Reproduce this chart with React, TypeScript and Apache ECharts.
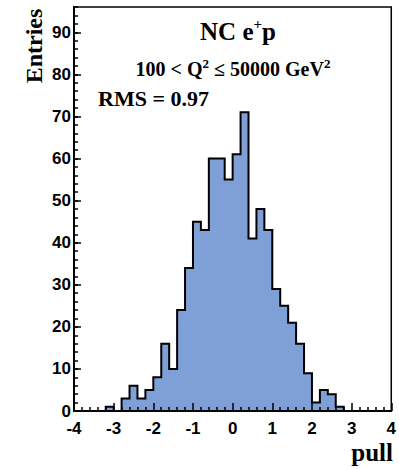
import React, { useEffect, useRef } from "react";
import * as echarts from "echarts";

const xMin = -4;
const xMax = 4;
const binWidth = 0.2;
const counts = [
  0, 0, 0, 0, 1, 0, 3, 6, 3, 5,
  8, 16, 10, 24, 34, 45, 43, 60, 60, 55,
  61, 71, 41, 48, 43, 29, 25, 21, 16, 9,
  2, 5, 4, 1, 0, 0, 0, 0, 0, 0,
];
const yMax = 96;
const xTitle = "pull";
const yTitle = "Entries";
const titleParts = ["NC e", "+", "p"];
const subtitleParts = ["100 < Q", "2", " ≤ 50000 GeV", "2"];
const rmsText = "RMS = 0.97";

const serif = '"Liberation Serif", "Times New Roman", serif';
const sans = '"Liberation Sans", Arial, sans-serif';

export default function App() {
  const ref = useRef<HTMLDivElement>(null);
  useEffect(() => {
    if (!ref.current) return;
    const chart = echarts.init(ref.current, null, { renderer: "svg" });
    const pts: number[][] = [[xMin, 0]];
    counts.forEach((c, i) => {
      const lo = xMin + i * binWidth;
      const hi = xMin + (i + 1) * binWidth;
      pts.push([lo, c]);
      pts.push([hi, c]);
    });
    pts.push([xMax, 0]);

    const black = "#000";
    chart.setOption({
      animation: false,
      grid: {
        left: 74,
        right: 4,
        top: 7,
        bottom: 58,
        show: true,
        borderColor: black,
        borderWidth: 1.5,
        backgroundColor: "transparent",
      },
      xAxis: {
        type: "value",
        min: xMin,
        max: xMax,
        interval: 1,
        z: 5,
        axisLine: { onZero: false, lineStyle: { color: black, width: 2 } },
        axisTick: { inside: true, length: 8, lineStyle: { color: black, width: 1.5 } },
        minorTick: { show: true, splitNumber: 5, length: 4, lineStyle: { color: black, width: 1.5 } },
        axisLabel: { color: black, fontFamily: sans, fontWeight: "bold", fontSize: 17, margin: 9 },
        splitLine: { show: false },
        minorSplitLine: { show: false },
      },
      yAxis: [
        {
          type: "value",
          position: "left",
          min: 0,
          max: yMax,
          interval: 2,
          z: 5,
          axisLine: { show: true, onZero: false, lineStyle: { color: black, width: 2 } },
          axisTick: { show: true, inside: true, length: 4, lineStyle: { color: black, width: 1.5 } },
          axisLabel: { show: false },
          splitLine: { show: false },
        },
        {
          type: "value",
          position: "left",
          min: 0,
          max: yMax,
          interval: 10,
          z: 5,
          axisLine: { show: true, onZero: false, lineStyle: { color: black, width: 2 } },
          axisTick: { show: true, inside: true, length: 7, lineStyle: { color: black, width: 1.5 } },
          axisLabel: {
            color: black,
            fontFamily: sans,
            fontWeight: "bold",
            fontSize: 17,
            margin: 3,
            showMaxLabel: false,
          },
          splitLine: { show: false },
        },
      ],
      series: [
        {
          type: "line",
          xAxisIndex: 0,
          yAxisIndex: 0,
          data: pts,
          symbol: "none",
          lineStyle: { color: black, width: 2, join: "miter" },
          areaStyle: { color: "#7f9fd7", opacity: 1, origin: "start" },
          z: 1,
        },
      ],
      graphic: [
        {
          type: "text",
          x: 238,
          y: 30,
          style: {
            text: `{a|${titleParts[0]}}{s|${titleParts[1]}}{a|${titleParts[2]}}`,
            align: "center",
            verticalAlign: "middle",
            fill: black,
            rich: {
              a: { fontFamily: serif, fontWeight: "bold", fontSize: 25, lineHeight: 28, verticalAlign: "bottom" },
              s: { fontFamily: serif, fontWeight: "bold", fontSize: 15, lineHeight: 28, verticalAlign: "top" },
            },
          },
        },
        {
          type: "text",
          x: 233,
          y: 68,
          style: {
            text: `{a|${subtitleParts[0]}}{s|${subtitleParts[1]}}{a|${subtitleParts[2]}}{s|${subtitleParts[3]}}`,
            align: "center",
            verticalAlign: "middle",
            fill: black,
            rich: {
              a: { fontFamily: serif, fontWeight: "bold", fontSize: 20, lineHeight: 22, verticalAlign: "bottom" },
              s: { fontFamily: serif, fontWeight: "bold", fontSize: 13, lineHeight: 22, verticalAlign: "top" },
            },
          },
        },
        {
          type: "text",
          x: 98,
          y: 98,
          style: {
            text: rmsText,
            align: "left",
            verticalAlign: "middle",
            fill: black,
            fontFamily: serif,
            fontWeight: "bold",
            fontSize: 22,
          },
        },
        {
          type: "text",
          x: 393,
          y: 452,
          style: {
            text: xTitle,
            align: "right",
            verticalAlign: "middle",
            fill: black,
            fontFamily: serif,
            fontWeight: "bold",
            fontSize: 25,
          },
        },
        {
          type: "text",
          x: 34,
          y: 46,
          rotation: Math.PI / 2,
          style: {
            text: yTitle,
            align: "center",
            verticalAlign: "middle",
            fill: black,
            fontFamily: serif,
            fontWeight: "bold",
            fontSize: 24,
          },
        },
      ],
    });
    return () => chart.dispose();
  }, []);
  return (
    <div
      ref={ref}
      style={{ position: "absolute", left: 0, top: 0, width: 399, height: 469, background: "#fff" }}
    />
  );
}
